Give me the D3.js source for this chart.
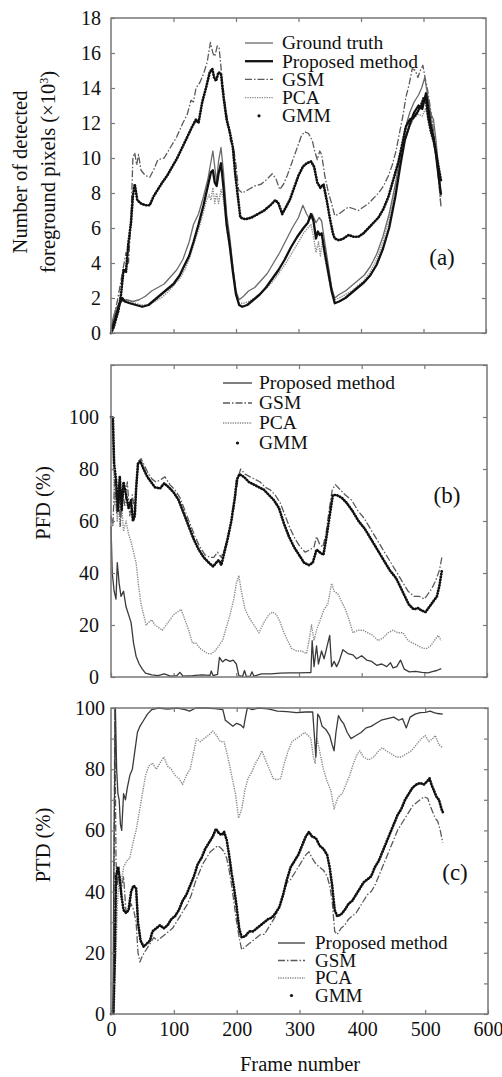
<!DOCTYPE html>
<html>
<head>
<meta charset="utf-8">
<script src="https://cdn.jsdelivr.net/npm/d3@7"></script>
<style>
  body { margin: 0; background: #fff; }
  svg { font-family: "Liberation Serif", "Times New Roman", serif; }
  text { font-family: "Liberation Serif", "Times New Roman", serif; fill: #111; }
</style>
</head>
<body>
<script>
// figure size
var width = 502, height = 1077;

// ---- panel (a): number of detected foreground pixels (x1000) ----
var aGroundTruth = [[0,0],[3,0.8],[8,1.4],[15,1.8],[25,1.9],[35,1.8],[45,1.9],[55,2.1],[65,2.4],[75,2.6],[85,2.8],[95,3.2],[105,3.6],[115,4.2],[125,5.2],[132,6.2],[140,6.8],[148,7.8],[155,8.8],[160,9.8],[163,10.4],[166,9.5],[169,8.6],[172,9.8],[176,10.6],[180,9.2],[185,6.8],[190,5.5],[195,3.8],[200,2.4],[205,1.9],[212,2.1],[220,2.4],[230,2.6],[240,3.0],[250,3.4],[260,4.0],[270,4.6],[280,5.3],[290,6.0],[300,6.6],[307,7.3],[313,6.8],[318,6.5],[322,6.8],[328,6.3],[333,6.6],[337,6.4],[342,5.2],[348,3.8],[353,2.6],[358,2.0],[365,2.2],[375,2.4],[385,2.7],[395,3.0],[405,3.3],[415,3.8],[425,4.5],[435,5.5],[445,6.8],[455,8.5],[463,10.2],[470,11.6],[478,12.6],[485,13.2],[492,13.6],[497,14.0],[502,14.6],[507,13.5],[512,12.5],[516,12.2],[520,11.0],[524,9.5],[528,7.8]];
var aProposed = [[0,0],[3,0.4],[8,1.0],[12,1.5],[18,2.0],[22,1.8],[30,1.7],[40,1.6],[50,1.5],[60,1.6],[70,1.9],[80,2.2],[90,2.5],[100,2.8],[110,3.3],[118,3.9],[125,4.4],[132,5.2],[140,6.2],[148,7.3],[155,8.4],[160,9.2],[163,9.3],[166,8.6],[169,8.4],[172,9.1],[176,9.7],[180,8.3],[185,6.2],[190,5.0],[195,3.5],[200,2.2],[205,1.6],[210,1.5],[218,1.6],[228,1.9],[238,2.2],[248,2.6],[258,3.1],[268,3.6],[278,4.2],[288,4.9],[298,5.5],[308,6.0],[315,6.3],[320,6.8],[324,6.4],[328,5.4],[331,5.8],[334,5.6],[337,5.7],[342,4.6],[348,3.4],[353,2.4],[358,1.7],[365,1.8],[375,2.0],[385,2.3],[395,2.6],[405,2.9],[415,3.3],[425,3.9],[435,4.8],[445,6.0],[455,7.8],[463,9.6],[470,11.0],[478,11.9],[485,12.6],[492,13.0],[498,12.8],[504,13.7],[508,12.8],[512,11.8],[516,11.2],[520,10.2],[524,9.0],[528,7.9]];
var aGSM = [[0,0.2],[5,1.0],[10,1.8],[15,2.8],[20,3.8],[24,4.6],[28,4.0],[32,6.5],[35,10.0],[38,10.3],[41,9.6],[44,10.2],[48,9.3],[55,9.0],[62,8.9],[68,9.3],[75,9.9],[85,10.0],[95,10.6],[105,11.2],[115,12.0],[122,12.5],[128,13.3],[132,13.2],[136,14.0],[142,14.3],[148,14.8],[154,15.5],[159,16.6],[163,16.0],[166,15.8],[170,16.4],[173,16.3],[177,14.8],[181,13.5],[186,12.2],[191,11.0],[196,10.6],[200,9.6],[204,8.2],[210,8.0],[220,8.2],[230,8.4],[240,8.5],[250,8.8],[258,9.1],[264,8.8],[270,8.2],[276,8.5],[282,9.0],[290,9.8],[298,10.6],[305,11.3],[310,11.5],[316,11.4],[322,11.0],[326,10.4],[330,9.9],[334,10.4],[337,10.2],[342,9.0],[348,8.0],[353,7.4],[358,6.7],[365,6.8],[372,7.0],[380,7.2],[388,7.1],[396,7.0],[404,7.2],[412,7.4],[420,7.7],[428,8.0],[436,8.4],[444,9.0],[450,9.6],[456,10.4],[462,11.5],[467,12.4],[472,13.5],[477,14.2],[482,15.1],[487,15.0],[491,14.6],[495,15.0],[499,15.3],[503,14.5],[507,13.8],[512,12.6],[516,11.5],[520,10.2],[524,8.8],[528,7.2]];
var aPCA = [[0,0],[4,0.6],[8,1.2],[14,1.7],[20,1.9],[28,1.8],[38,1.7],[50,1.6],[60,1.6],[70,1.8],[80,2.0],[90,2.3],[100,2.7],[110,3.1],[118,3.6],[125,4.2],[132,5.0],[140,5.9],[148,6.9],[153,7.6],[157,7.9],[160,7.6],[163,8.3],[166,7.4],[169,8.0],[172,7.4],[176,8.2],[180,7.6],[185,6.0],[190,4.8],[195,3.4],[200,2.2],[205,1.7],[212,1.7],[220,1.8],[230,2.0],[240,2.3],[250,2.6],[260,3.0],[270,3.5],[280,4.0],[290,4.6],[300,5.2],[308,5.7],[315,6.0],[320,6.2],[324,5.5],[328,4.6],[332,5.2],[335,4.4],[338,5.2],[342,4.3],[348,3.2],[353,2.3],[358,1.9],[365,2.0],[375,2.2],[385,2.4],[395,2.7],[405,3.0],[415,3.5],[425,4.2],[435,5.2],[445,6.5],[455,8.2],[463,9.8],[470,11.0],[478,11.8],[485,12.3],[492,12.5],[498,12.4],[503,12.8],[508,12.3],[512,12.4],[516,11.6],[520,10.4],[524,9.0],[528,7.2]];
var aGMM = [[0,0],[4,0.3],[8,0.8],[12,1.3],[16,2.2],[20,3.6],[24,3.5],[28,5.2],[32,6.3],[35,7.8],[38,8.5],[42,7.6],[48,7.4],[55,7.3],[62,7.3],[68,7.8],[75,8.2],[82,8.6],[90,9.0],[98,9.5],[106,10.0],[114,10.6],[122,11.2],[130,11.8],[136,12.2],[140,12.0],[146,13.2],[152,14.0],[158,14.9],[162,15.1],[165,14.6],[168,14.4],[172,14.9],[176,14.8],[180,13.5],[185,12.2],[190,11.5],[195,10.6],[199,9.0],[203,7.8],[207,6.6],[215,6.5],[225,6.6],[235,6.8],[245,7.0],[255,7.3],[263,7.6],[268,7.4],[274,6.8],[280,7.2],[286,7.6],[293,8.3],[300,9.0],[307,9.5],[313,9.7],[320,9.8],[325,9.5],[330,8.6],[335,8.3],[340,8.5],[345,7.6],[350,6.6],[355,5.7],[358,5.4],[365,5.3],[372,5.4],[380,5.6],[388,5.5],[396,5.5],[404,5.7],[412,6.0],[420,6.3],[428,6.6],[436,7.1],[444,7.8],[452,8.8],[460,9.8],[466,10.8],[472,11.8],[478,12.2],[484,12.3],[490,12.6],[496,13.0],[500,13.4],[504,13.3],[508,12.2],[512,11.5],[516,11.0],[520,10.3],[524,9.5],[528,8.7]];

// ---- panel (b): PFD (%) ----
var bProposed = [[0,58],[2,40],[5,33],[8,30],[10,44],[13,36],[16,31],[20,33],[24,27],[28,24],[32,21],[36,13],[40,8],[45,5],[50,3],[55,1.5],[65,0.8],[75,0.5],[85,1.2],[95,0.3],[105,0.5],[110,1.8],[115,0.3],[130,0.5],[145,0.8],[158,0.6],[160,2.3],[163,0.5],[170,1],[173,7.5],[178,5.8],[183,6.8],[190,6.0],[195,6.5],[200,5],[204,0.5],[210,0.2],[213,2.5],[216,0.2],[222,0.3],[225,2],[228,0.3],[240,1.2],[255,1.2],[270,1.5],[285,1.6],[300,1.6],[315,1.7],[319,1.7],[321,14],[324,4],[328,12],[331,5],[336,10],[340,7],[344,11],[349,16],[352,4],[356,6],[360,4],[364,6],[370,10.5],[378,9],[386,8.5],[392,7],[400,8.2],[408,6.5],[416,6],[424,4.5],[432,5.0],[440,4],[446,5.5],[450,3.5],[456,4],[462,6.5],[468,3],[476,2],[486,2.2],[496,1.8],[506,1.6],[514,2.2],[520,2.5],[527,3.2]];
var bGSM = [[0,62],[3,58],[6,77],[9,63],[12,74],[15,58],[18,72],[22,66],[26,75],[30,62],[34,70],[38,64],[41,76],[44,83],[48,84],[54,81],[60,78],[66,76],[72,75],[80,76],[86,77],[94,74],[102,72],[110,69],[118,64],[126,59],[134,54],[142,50],[150,47],[158,46],[164,46],[170,48],[176,46],[182,50],[188,55],[194,62],[199,70],[203,77],[207,80],[214,78],[222,77],[230,76],[238,75],[246,73],[254,72],[262,70],[270,67],[278,62],[286,57],[294,53],[302,50],[310,48],[318,49],[324,50],[328,54],[333,51],[338,50],[343,55],[348,64],[353,72],[358,74],[366,72],[374,70],[384,68],[394,64],[404,61],[414,57],[424,53],[434,49],[444,45],[454,41],[464,37],[474,33],[484,31],[492,31],[500,30],[506,32],[512,34],[518,37],[524,41],[528,46]];
var bPCA = [[0,100],[2,95],[4,80],[6,66],[8,72],[10,60],[12,70],[14,58],[17,66],[20,56],[24,60],[28,55],[32,52],[36,48],[40,44],[44,35],[48,28],[52,24],[56,20],[60,21],[65,22],[70,20],[76,19],[82,18],[88,20],[94,22],[100,24],[106,25],[112,26],[118,22],[124,18],[130,13],[136,13],[142,11],[148,10],[154,9],[160,9],[166,10],[172,12],[178,14],[184,19],[190,24],[196,30],[200,36],[204,39],[208,33],[214,26],[220,23],[228,20],[236,17],[244,21],[252,24],[258,25],[264,24],[270,21],[276,17],[282,14],[288,11],[296,10],[304,10],[312,9],[316,14],[320,20],[324,14],[328,18],[334,22],[340,26],[346,28],[352,36],[356,33],[362,32],[368,29],[374,26],[380,22],[386,17],[394,18],[402,18],[410,17],[418,16],[426,14],[434,15],[442,17],[450,18],[458,17],[466,17],[474,14],[482,13],[490,12],[498,11],[504,11],[510,12],[516,14],[522,16],[527,14]];
var bGMM = [[0,100],[3,100],[5,82],[8,76],[11,64],[14,77],[17,64],[20,75],[24,70],[28,65],[32,68],[35,60],[38,62],[40,72],[43,82],[47,83],[52,80],[58,77],[64,75],[70,73],[78,72.5],[85,74.5],[92,73],[100,71],[108,68],[116,63],[124,58],[132,53],[140,49],[148,46],[156,44],[163,42.5],[168,44],[172,45],[176,43],[180,47],[186,53],[192,60],[197,68],[201,76],[205,78],[212,77],[220,75],[228,74],[236,73],[244,72],[252,70],[260,68],[268,65],[276,59],[284,54],[292,50],[300,47],[308,44],[316,43],[322,44],[328,49],[333,48],[339,47],[344,54],[349,62],[354,70],[360,70],[368,69],[376,67],[385,64],[395,60],[405,57],[415,53],[425,49],[435,45],[445,41],[455,38],[465,33],[475,28],[483,26],[490,26.5],[496,25.5],[502,25],[508,27],[514,29],[520,31],[524,35],[528,41]];

// ---- panel (c): PTD (%) ----
var cProposed = [[0,0],[3,0],[5,60],[7,100],[9,80],[11,72],[13,70],[15,62],[17,60],[20,72],[23,70],[26,74],[30,78],[34,80],[38,86],[42,92],[46,94],[52,96],[58,98],[65,99.5],[75,100],[90,99.6],[105,100],[118,99.5],[125,99],[135,100],[150,100],[165,99.8],[178,99.5],[182,96],[188,95],[194,94],[200,95],[206,94.5],[211,93.5],[214,97],[217,100],[225,99.5],[235,100],[250,99.7],[265,99],[280,98.8],[295,98.5],[310,98.7],[321,98.7],[324,90],[326,84],[329,98],[332,97],[336,94],[342,93],[348,91],[352,88],[355,86],[358,92],[362,97.5],[366,96],[370,95],[376,92],[382,90],[390,91],[398,92],[406,93.5],[414,94],[422,95],[430,96],[440,96.5],[450,97],[458,96],[464,96.5],[470,93.5],[476,97],[484,98],[492,98.5],[500,98.6],[508,99],[514,98.5],[520,98.2],[528,98]];
var cGSM = [[0,0],[4,0],[6,100],[8,50],[10,42],[13,48],[16,40],[20,45],[24,33],[28,34],[32,36],[36,34],[40,30],[43,20],[46,17],[50,19],[56,21],[62,23],[68,25],[74,24],[80,25],[86,26],[92,27],[98,28],[104,30],[110,32],[116,34],[122,36],[128,39],[134,43],[140,46],[146,49],[152,51],[158,53],[164,54],[170,55],[176,54],[180,53],[184,51],[188,47],[192,42],[196,36],[200,30],[204,25],[208,21],[214,22],[220,23],[226,24],[232,25],[238,26],[244,26],[250,28],[256,30],[262,32],[268,35],[274,39],[280,43],[286,44],[292,46],[298,48],[304,50],[310,52],[315,53],[320,51],[326,49],[332,48],[338,47],[344,45],[348,42],[352,37],[356,27],[360,26],[366,28],[372,29],[378,31],[384,32],[390,33],[396,35],[402,37],[408,39],[414,40],[420,42],[426,45],[432,48],[438,51],[444,54],[450,57],[456,60],[462,62],[468,64],[474,66],[480,68],[486,69],[492,70],[498,71],[504,70.5],[508,68],[512,66],[516,64],[520,63],[524,60],[528,56]];
var cPCA = [[0,0],[4,5],[8,20],[10,35],[13,45],[16,42],[20,48],[25,50],[30,51],[35,56],[40,60],[45,66],[50,72],[55,78],[60,81],[66,82],[72,80],[78,82],[84,84],[90,81],[96,80],[102,78],[108,77],[114,75],[120,78],[126,80],[132,86],[136,90],[142,89],[148,90],[155,91],[162,92.5],[168,91],[174,89],[180,89],[186,84],[192,78],[198,72],[203,64],[208,67],[213,73],[218,77],[224,79],[230,82],[236,84],[240,86],[246,83],[252,80],[258,77],[264,76.5],[270,77],[276,82],[282,86],[288,89],[295,90],[302,91],[308,92],[314,91],[318,90],[322,84],[325,82],[328,90],[332,86],[338,80],[344,76],[350,73],[355,67],[358,69],[362,71],[368,72],[374,75],[380,78],[386,82],[392,85],[396,86],[402,84],[410,83],[418,84],[426,86],[432,87],[438,86],[446,85],[454,84],[462,84],[470,85],[478,86],[486,88],[494,90],[500,91],[506,89],[512,90],[516,91],[522,88],[528,87]];
var cGMM = [[0,0],[4,0],[6,18],[8,45],[11,48],[14,44],[17,38],[20,34],[24,33],[28,34],[32,40],[36,42],[40,41],[43,30],[47,24],[52,22],[57,23],[62,24],[66,27],[72,28],[78,29],[84,28],[90,29],[96,31],[102,32],[108,34],[114,37],[120,39],[126,42],[132,45],[138,49],[144,51],[150,54],[156,56],[162,58],[167,60.5],[172,59],[176,58.5],[180,59.5],[184,57],[188,52],[192,46],[196,41],[200,35],[204,28],[208,25],[214,25.5],[220,27],[226,27],[232,28],[238,29],[244,30],[250,31],[256,31.5],[262,33],[268,35],[274,39],[280,44],[286,48],[292,50],[298,52],[304,55],[310,58],[315,59.5],[320,58],[326,57.5],[332,55],[338,54],[344,52],[348,48],[352,42],[356,34],[360,32],[366,32.5],[372,34],[378,36],[384,37],[390,39],[396,41],[402,43],[408,44],[414,45],[420,48],[426,50],[432,53],[438,56],[444,59],[450,62],[456,65],[462,67],[468,70],[474,72],[480,74],[486,75],[492,75.5],[498,75],[503,76],[507,77],[510,75],[514,73],[518,71],[522,70],[526,67],[528,66]];

var frameTicks = [0, 100, 200, 300, 400, 500, 600];

// line styles per method
var styles = {
  gt:   { stroke: "#6a6a6a", width: 1.3, dash: null, cap: "butt" },
  propThick: { stroke: "#111", width: 2.3, dash: null, cap: "butt" },
  prop: { stroke: "#3a3a3a", width: 1.3, dash: null, cap: "butt" },
  gsm:  { stroke: "#5a5a5a", width: 1.3, dash: "7,2,1.5,2", cap: "butt" },
  pca:  { stroke: "#8a8a8a", width: 1.4, dash: "1.3,1.1", cap: "butt" },
  gmm:  { stroke: "#111", width: 2.7, dash: "0.4,2.4", cap: "round" }
};

var svg = d3.select("body").append("svg")
  .attr("width", width)
  .attr("height", height)
  .attr("font-family", "Liberation Serif, serif");

function drawPanel(p) {
  var x = d3.scaleLinear().domain([0, 600]).range([111, p.right]);
  var y = d3.scaleLinear().domain(p.yDomain).range([p.bottom, p.top]);
  var g = svg.append("g");

  // series
  var line = d3.line().x(function(d) { return x(d[0]); }).y(function(d) { return y(d[1]); });
  p.series.forEach(function(s) {
    var st = styles[s.style];
    g.append("path")
      .datum(s.data)
      .attr("d", line)
      .attr("fill", "none")
      .attr("stroke", st.stroke)
      .attr("stroke-width", st.width)
      .attr("stroke-dasharray", st.dash)
      .attr("stroke-linecap", st.cap)
      .attr("stroke-linejoin", "round");
  });

  // frame
  g.append("rect")
    .attr("x", x(0)).attr("y", y(p.yDomain[1]))
    .attr("width", x(600) - x(0)).attr("height", y(p.yDomain[0]) - y(p.yDomain[1]))
    .attr("fill", "none").attr("stroke", "#777").attr("stroke-width", 1.5);

  // axes (ticks point inside)
  var yl = g.append("g").attr("transform", "translate(" + x(0) + ",0)")
    .call(d3.axisLeft(y).tickValues(p.yTicks).tickSize(-4).tickPadding(p.labelPad)
      .tickFormat(function(d) { return p.yLabels.indexOf(d) >= 0 ? d : ""; }));
  var yr = g.append("g").attr("transform", "translate(" + x(600) + ",0)")
    .call(d3.axisRight(y).tickValues(p.yTicks).tickSize(-4).tickFormat(""));
  var xb = g.append("g").attr("transform", "translate(0," + y(p.yDomain[0]) + ")")
    .call(d3.axisBottom(x).tickValues(frameTicks).tickSize(-4).tickPadding(8)
      .tickFormat(function(d) { return p.xLabels ? d : ""; }));
  var xt = g.append("g").attr("transform", "translate(0," + y(p.yDomain[1]) + ")")
    .call(d3.axisTop(x).tickValues(frameTicks.slice(1, 6)).tickSize(-4).tickFormat(""));
  [yl, yr, xb, xt].forEach(function(a) {
    a.attr("font-family", null).attr("font-size", null);
    a.select(".domain").remove();
    a.selectAll("line").attr("stroke", "#777").attr("stroke-width", 1.2);
    a.selectAll("text").style("font-size", "20px").attr("fill", "#111");
  });

  // legend
  var lg = g.append("g");
  p.legend.forEach(function(item, i) {
    var st = styles[item.style];
    var ly = p.legendY + i * p.legendStep;
    if (item.style === "gmm") {
      lg.append("circle").attr("cx", (p.legendX0 + p.legendX1) / 2).attr("cy", ly)
        .attr("r", 1.6).attr("fill", "#111");
    } else {
      lg.append("line")
        .attr("x1", p.legendX0).attr("x2", p.legendX1).attr("y1", ly).attr("y2", ly)
        .attr("stroke", st.stroke).attr("stroke-width", st.width)
        .attr("stroke-dasharray", st.dash);
    }
    lg.append("text").attr("x", p.legendText).attr("y", ly).attr("dy", "0.33em")
      .style("font-size", p.legendFont).text(item.name);
  });

  // panel tag
  g.append("text").attr("x", p.tag[0]).attr("y", p.tag[1]).attr("dy", "0.35em")
    .attr("text-anchor", "middle").style("font-size", "23px").text(p.tag[2]);
}

drawPanel({
  yDomain: [0, 18], top: 18, bottom: 333, right: 486, labelPad: 10,
  yTicks: d3.range(0, 19, 2), yLabels: d3.range(0, 19, 2), xLabels: false,
  series: [
    { style: "pca", data: aPCA }, { style: "gsm", data: aGSM },
    { style: "gt", data: aGroundTruth }, { style: "gmm", data: aGMM },
    { style: "propThick", data: aProposed }
  ],
  legend: [
    { name: "Ground truth", style: "gt" }, { name: "Proposed method", style: "propThick" },
    { name: "GSM", style: "gsm" }, { name: "PCA", style: "pca" }, { name: "GMM", style: "gmm" }
  ],
  legendX0: 245, legendX1: 273, legendText: 282, legendY: 43, legendStep: 18.2, legendFont: "19.5px",
  tag: [442, 257, "(a)"]
});

drawPanel({
  yDomain: [0, 120], top: 365, bottom: 677, right: 487, labelPad: 12,
  yTicks: d3.range(0, 121, 20), yLabels: d3.range(0, 101, 20), xLabels: false,
  series: [
    { style: "pca", data: bPCA }, { style: "gsm", data: bGSM },
    { style: "gmm", data: bGMM }, { style: "prop", data: bProposed }
  ],
  legend: [
    { name: "Proposed method", style: "prop" }, { name: "GSM", style: "gsm" },
    { name: "PCA", style: "pca" }, { name: "GMM", style: "gmm" }
  ],
  legendX0: 223, legendX1: 252, legendText: 259, legendY: 383, legendStep: 20, legendFont: "19.5px",
  tag: [447, 495, "(b)"]
});

drawPanel({
  yDomain: [0, 100], top: 708, bottom: 1014, right: 488, labelPad: 6,
  yTicks: d3.range(0, 101, 10), yLabels: d3.range(0, 101, 20), xLabels: true,
  series: [
    { style: "pca", data: cPCA }, { style: "gsm", data: cGSM },
    { style: "gmm", data: cGMM }, { style: "prop", data: cProposed }
  ],
  legend: [
    { name: "Proposed method", style: "prop" }, { name: "GSM", style: "gsm" },
    { name: "PCA", style: "pca" }, { name: "GMM", style: "gmm" }
  ],
  legendX0: 278, legendX1: 305, legendText: 315, legendY: 943, legendStep: 17.5, legendFont: "19px",
  tag: [455, 872, "(c)"]
});

// axis titles
function vtitle(x, y, txt) {
  return svg.append("text").attr("transform", "translate(" + x + "," + y + ") rotate(-90)")
    .attr("text-anchor", "middle").attr("dy", "0.35em").style("font-size", "20.5px").text(txt);
}
vtitle(20, 172, "Number of detected");
var t2 = vtitle(48, 172, "foreground pixels (×10");
t2.append("tspan").attr("baseline-shift", "super").style("font-size", "12px").text("3");
t2.append("tspan").text(")");
vtitle(43, 503, "PFD (%)");
vtitle(43, 845, "PTD (%)");
svg.append("text").attr("x", 300).attr("y", 1065).attr("dy", "0.3em")
  .attr("text-anchor", "middle").style("font-size", "20.5px").text("Frame number");
</script>
</body>
</html>
